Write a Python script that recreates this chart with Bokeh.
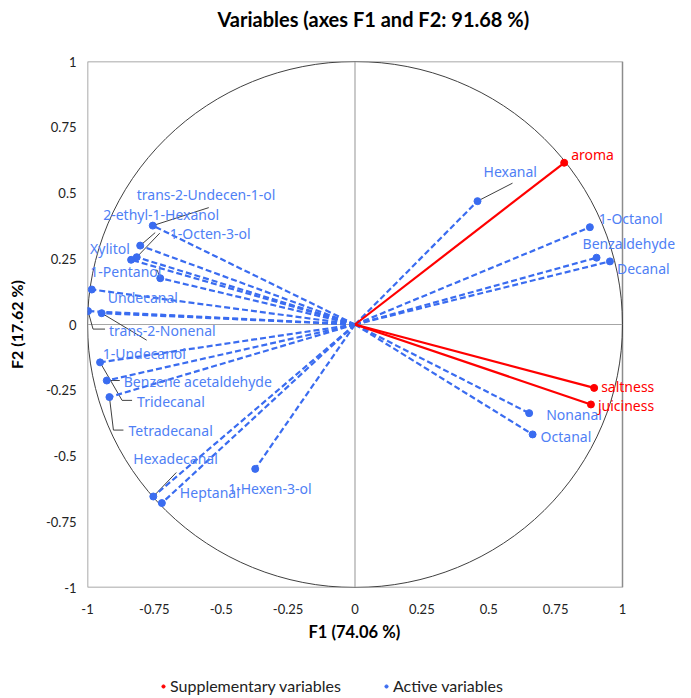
from bokeh.plotting import figure
from bokeh.layouts import column
from bokeh.models import (Range1d, FixedTicker, NumeralTickFormatter, Label, Title,
                          Legend, LegendItem)
from bokeh.embed import file_html
from bokeh.resources import INLINE

# ---------------- data ----------------
sup_names = ["aroma", "saltness", "juiciness"]
sup_f1 = [0.782, 0.894, 0.882]
sup_f2 = [0.615, -0.241, -0.304]

act_names = ["Hexanal", "1-Octanol", "Benzaldehyde", "Decanal", "Nonanal", "Octanal",
             "1-Hexen-3-ol", "Heptanal", "Hexadecanal", "Tetradecanal",
             "Benzene acetaldehyde", "Tridecanal", "1-Undecanol", "trans-2-Nonenal",
             "Undecanal", "1-Pentanol", "Xylitol", "1-Octen-3-ol", "2-ethyl-1-Hexanol",
             "trans-2-Undecen-1-ol"]
act_f1 = [0.458, 0.878, 0.903, 0.953, 0.651, 0.664,
          -0.373, -0.722, -0.754, -0.918,
          -0.928, -0.953, -0.947, -0.998,
          -0.984, -0.728, -0.837, -0.816, -0.803,
          -0.756]
act_f2 = [0.469, 0.370, 0.254, 0.240, -0.337, -0.418,
          -0.549, -0.679, -0.654, -0.276,
          -0.213, -0.144, 0.043, 0.051,
          0.133, 0.176, 0.246, 0.256, 0.300,
          0.376]

axis_ticks = [-1, -0.75, -0.5, -0.25, 0, 0.25, 0.5, 0.75, 1]
legend_labels = ["Supplementary variables", "Active variables"]

# ---------------- layout (label offsets in pixels, right/up positive) ----------------
sup_off = [(7, 8), (7, 1), (7, -1)]
act_off = [(6, 30), (9, 9), (-14, 14), (7, -7), (17, -1), (8, -2),
           (-27, -20), (18, 11), (-20, 38), (19, -33),
           (17, -1), (37, -39), (1, -40), (21, -19),
           (16, -8), (-70, 7), (-41, 11), (33, 24), (-37, 31),
           (-16, 31)]
# leader polylines: pixel offsets from the point (right/up positive)
leaders = {
    "Hexanal": [(35, 18)],
    "Hexadecanal": [(23, 24)],
    "Tetradecanal": [(4, -33), (14, -33)],
    "Benzene acetaldehyde": [(13, 0)],
    "Tridecanal": [(22, -38), (32, -38)],
    "1-Undecanol": [(45, -27)],
    "trans-2-Nonenal": [(5, -18), (17, -18)],
    "1-Pentanol": [(-3, 8), (-5, 8)],
    "1-Octen-3-ol": [(23, 24)],
    "2-ethyl-1-Hexanol": [(15, 13)],
    "trans-2-Undecen-1-ol": [(56, 18)],
}

W = 675
H1, H2 = 655, 40
ML, MR, MT = 87, 0, 61
BOX_W, BOX_H = 535, 526          # pixel size of the [-1, 1] box
MB = H1 - MT - BOX_H
PX = BOX_W / 2.0
PY = BOX_H / 2.0
FW = W - ML - MR                 # frame runs to the right edge so labels are not clipped
x_end = -1 + FW / PX

BLUE = "#3a6cf0"
BLUE_T = "#4f7ff5"
RED = "#ff0000"
GREY = "#404040"
FRAME = "#8c8c8c"

p = figure(width=W, height=H1, output_backend="svg", toolbar_location=None,
           x_range=Range1d(-1, x_end), y_range=Range1d(-1, 1),
           min_border_left=ML, min_border_right=MR, min_border_top=MT, min_border_bottom=MB)
p.title.text = "Variables (axes F1 and F2: 91.68 %)"
p.title.align = "left"
p.title.offset = 130
p.title.standoff = 0
p.title.text_font = "Lato"
p.title.text_font_size = "20px"
p.title.text_font_style = "bold"
p.title.text_color = "#000000"
# empty spacer title between the title and the frame
p.add_layout(Title(text=" ", text_font_size="20px", standoff=7), "above")

p.grid.visible = False
p.outline_line_color = None
p.background_fill_color = "white"
p.border_fill_color = "white"

for ax in (p.xaxis[0], p.yaxis[0]):
    ax.ticker = FixedTicker(ticks=axis_ticks)
    ax.formatter = NumeralTickFormatter(format="0.[00]")
    ax.axis_line_color = None
    ax.major_tick_line_color = None
    ax.minor_tick_line_color = None
    ax.major_label_text_font = "Lato"
    ax.major_label_text_font_size = "13px"
    ax.major_label_text_color = "#222222"
    ax.axis_label_text_font = "Lato"
    ax.axis_label_text_font_size = "16px"
    ax.axis_label_text_font_style = "bold"
    ax.axis_label_text_color = "#000000"
p.yaxis.axis_label = "F2 (17.62 %)"
p.xaxis.major_label_standoff = 10
p.yaxis.major_label_standoff = 5
p.yaxis.axis_label_standoff = 17

p.add_layout(Title(text="F1 (74.06 %)", align="left", offset=221, vertical_align="top",
                   standoff=10, text_font="Lato", text_font_size="16.5px",
                   text_font_style="bold", text_color="#000000"), "below")

# box and centre lines
p.quad(left=[-1], right=[1], bottom=[-1], top=[1], fill_color=None,
       line_color=FRAME, line_width=1.5)
p.segment(x0=[0, -1], y0=[-1, 0], x1=[0, 1], y1=[1, 0], line_color="#a6a6a6", line_width=1.2)

# correlation circle
p.ellipse(x=0, y=0, width=2, height=2, fill_color=None, line_color=GREY, line_width=1)

# leader lines
lx, ly = [], []
for name, pts in leaders.items():
    i = act_names.index(name)
    x0, y0 = act_f1[i], act_f2[i]
    lx.append([x0] + [x0 + dx / PX for dx, dy in pts])
    ly.append([y0] + [y0 + dy / PY for dx, dy in pts])
p.multi_line(xs=lx, ys=ly, line_color=GREY, line_width=1)

# active variables
n_act = len(act_names)
p.segment(x0=[0] * n_act, y0=[0] * n_act, x1=act_f1, y1=act_f2,
          line_color=BLUE, line_width=2.2, line_dash="6 3")
p.scatter(act_f1, act_f2, size=7, color=BLUE)

# supplementary variables
n_sup = len(sup_names)
p.segment(x0=[0] * n_sup, y0=[0] * n_sup, x1=sup_f1, y1=sup_f2,
          line_color=RED, line_width=2.2)
p.scatter(sup_f1, sup_f2, size=7, color=RED)

def add_labels(names, xs, ys, offs, color):
    for t, x, y, (xo, yo) in zip(names, xs, ys, offs):
        p.add_layout(Label(x=x, y=y, text=t, x_offset=xo, y_offset=yo,
                           text_font="Noto Sans", text_font_size="14px",
                           text_color=color, text_align="left", text_baseline="middle"))

add_labels(act_names, act_f1, act_f2, act_off, BLUE_T)
add_labels(sup_names, sup_f1, sup_f2, sup_off, RED)

# ---------------- legend strip (its view range lies outside the data) ----------------
q = figure(width=W, height=H2, output_backend="svg", toolbar_location=None,
           x_range=Range1d(2, 3), y_range=Range1d(2, 3),
           min_border=0, x_axis_type=None, y_axis_type=None)
q.grid.visible = False
q.outline_line_color = None
q_sup = q.scatter(sup_f1, sup_f2, size=6, color=RED)
q_act = q.scatter(act_f1, act_f2, size=6, color=BLUE)
legend = Legend(items=[LegendItem(label=legend_labels[0], renderers=[q_sup]),
                       LegendItem(label=legend_labels[1], renderers=[q_act])],
                orientation="horizontal", location=(72, 0),
                background_fill_alpha=0, border_line_color=None,
                label_text_font="Lato", label_text_font_size="16px",
                label_text_color="#222222", glyph_width=8, glyph_height=8,
                label_standoff=3, spacing=41, padding=0, margin=0)
q.add_layout(legend, "center")

open("out.html", "w").write(file_html(column(p, q, spacing=0), INLINE))
